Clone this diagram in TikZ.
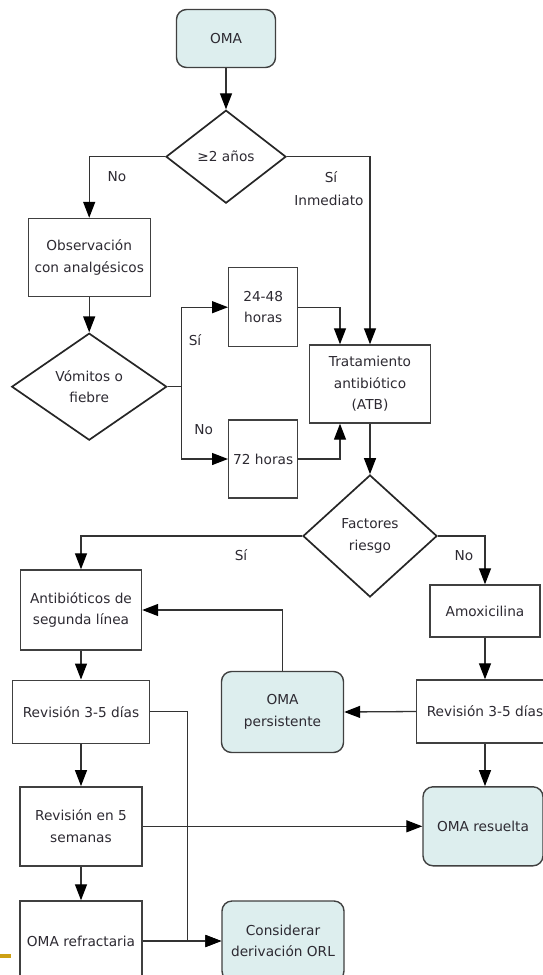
\documentclass[tikz,border=0pt]{standalone}
\usepackage{fontspec}
\setmainfont{DejaVu Sans}
\usetikzlibrary{shapes.geometric,arrows.meta}
\definecolor{cajaazul}{RGB}{221,238,238}
\definecolor{gristrazo}{RGB}{64,64,64}
\definecolor{texto}{RGB}{45,42,50}
\definecolor{dorado}{RGB}{205,160,20}
\tikzset{
  caja/.style={draw=gristrazo, line width=1.4pt, fill=white, align=center, inner sep=0pt},
  inicio/.style={caja, rounded corners=10pt, fill=cajaazul},
  decision/.style={diamond, draw=black!85, line width=1.7pt, fill=white, align=center, inner sep=0pt},
  conector/.style={draw=black!80, line width=1.3pt},
  flecha/.style={conector, ->}
}
\begin{document}
\begin{tikzpicture}[x=1pt, y=-1pt, >={Triangle[length=16pt,width=12pt,color=black]},
  every node/.style={font=\fontsize{13.7}{21.6}\selectfont, text=texto}]
\useasboundingbox (0,0) rectangle (543,975);
\clip (0,0) rectangle (543,975);
% Inicio y decisión por edad
\node[inicio, minimum width=99pt, minimum height=58pt] (oma) at (226,38.5) {OMA};
\node[decision, minimum width=120pt, minimum height=93pt] (edad) at (226,156.7) {≥2 años};
\node[caja, minimum width=122pt, minimum height=78pt] (obs) at (89.2,257.5) {Observación\\con analgésicos};
\node[decision, minimum width=155pt, minimum height=107pt] (vomito) at (89.2,386.7) {Vómitos o\\fiebre};
% Tiempos de espera
\node[caja, minimum width=69pt, minimum height=79pt] (h2448) at (263.2,307.2) {24-48\\horas};
\node[caja, minimum width=69pt, minimum height=78pt] (h72) at (263.2,459) {72 horas};
\node[caja, minimum width=121pt, minimum height=78pt] (trat) at (370,384) {Tratamiento\\antibiótico\\(ATB)};
\node[decision, minimum width=134pt, minimum height=122pt] (factor) at (370,536) {Factores\\riesgo};
% Rama con factores de riesgo
\node[caja, minimum width=121pt, minimum height=80pt] (segunda) at (81,610) {Antibióticos de\\segunda línea};
\node[caja, minimum width=137pt, minimum height=63pt] (rev1) at (81,711.7) {Revisión 3-5 días};
\node[caja, minimum width=122pt, minimum height=79pt] (rev5) at (81,826.3) {Revisión en 5\\semanas};
\node[caja, minimum width=122pt, minimum height=80pt] (refrac) at (81,941) {OMA refractaria};
\node[inicio, minimum width=122pt, minimum height=80pt] (orl) at (283,941) {Considerar\\derivación ORL};
% Rama sin factores de riesgo
\node[caja, minimum width=110pt, minimum height=52pt] (amoxi) at (485,611) {Amoxicilina};
\node[caja, minimum width=137pt, minimum height=63pt] (rev2) at (485,711.5) {Revisión 3-5 días};
\node[inicio, minimum width=122pt, minimum height=81pt] (persis) at (282.5,712) {OMA\\persistente};
\node[inicio, minimum width=120pt, minimum height=79pt] (resuel) at (483,826.3) {OMA resuelta};
% Etiquetas de las ramas
\node (noedad) at (117,176.7) {No};
\node (siedad) at (331,177) {Sí};
\node (inmed) at (329,200) {Inmediato};
\node (sivom) at (195,340) {Sí};
\node (novom) at (203.6,429.3) {No};
\node (sifac) at (241,555) {Sí};
\node (nofac) at (464,556) {No};
% Conectores
\draw[flecha] (oma) -- (edad);
\draw[flecha] (edad.west) -| (obs.north);
\draw[flecha] (edad.east) -| (trat.north);
\draw[flecha] (obs) -- (vomito);
\draw[conector] (vomito.east) -- ++(14,0) coordinate (rama);
\draw[flecha] (rama) |- (h2448.west);
\draw[flecha] (rama) |- (h72.west);
\draw[flecha] (h2448.east) -| ([xshift=-30pt]trat.north);
\draw[flecha] (h72.east) -| ([xshift=-30pt]trat.south);
\draw[flecha] (trat) -- (factor);
\draw[flecha] (factor.west) -| (segunda.north);
\draw[flecha] (factor.east) -| (amoxi.north);
\draw[flecha] (segunda) -- (rev1);
\draw[flecha] (rev1) -- (rev5);
\draw[flecha] (rev5) -- (refrac);
\draw[flecha] (amoxi) -- (rev2);
\draw[flecha] (rev2.west) -- (persis.east);
\draw[flecha] (rev2.south) -- (rev2.south |- resuel.north);
\draw[flecha] (persis.north) |- (segunda.east);
\draw[flecha] (rev1.east) -- ++(37.5,0) |- (orl.west);
\draw[flecha] (refrac.east) -- (orl.west);
\draw[flecha] (rev5.east) -- (resuel.west);
% Marca dorada del margen
\fill[dorado] (0,954) rectangle (11,957.5);
\end{tikzpicture}
\end{document}
